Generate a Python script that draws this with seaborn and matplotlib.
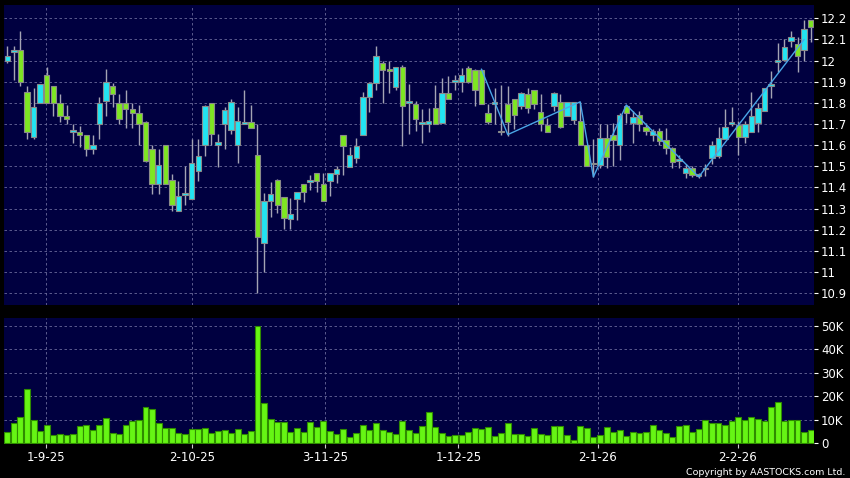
import numpy as np
import pandas as pd
import matplotlib
matplotlib.use('Agg')
import matplotlib.pyplot as plt
import seaborn as sns

# daily candles, 22 Aug 2025 .. 20 Feb 2026
opens = [12.00, 12.04, 12.05, 11.85, 11.64, 11.80, 11.93, 11.88, 11.80, 11.74,
         11.66, 11.66, 11.65, 11.58, 11.70, 11.81, 11.88, 11.80, 11.80, 11.77,
         11.75, 11.71, 11.58, 11.415, 11.60, 11.435, 11.29, 11.365, 11.345, 11.48,
         11.60, 11.80, 11.60, 11.70, 11.67, 11.60, 11.70, 11.71, 11.555, 11.135,
         11.335, 11.435, 11.355, 11.25, 11.345, 11.415, 11.425, 11.47, 11.415, 11.43,
         11.465, 11.65, 11.495, 11.54, 11.65, 11.83, 11.895, 11.99, 11.955, 11.875,
         11.97, 11.80, 11.795, 11.70, 11.70, 11.775, 11.705, 11.845, 11.90, 11.90,
         11.965, 11.955, 11.955, 11.75, 11.795, 11.66, 11.795, 11.82, 11.785, 11.84,
         11.86, 11.755, 11.695, 11.785, 11.805, 11.74, 11.72, 11.715, 11.60, 11.51,
         11.505, 11.635, 11.65, 11.60, 11.785, 11.705, 11.745, 11.685, 11.65, 11.665,
         11.625, 11.585, 11.525, 11.47, 11.49, 11.455, 11.485, 11.54, 11.55, 11.63,
         11.70, 11.695, 11.64, 11.66, 11.705, 11.76, 11.88, 11.995, 12.005, 12.095,
         12.08, 12.05, 12.19]
highs = [12.07, 12.07, 12.14, 11.88, 11.87, 11.89, 11.97, 11.88, 11.84, 11.79,
         11.70, 11.69, 11.65, 11.65, 11.83, 11.96, 11.895, 11.84, 11.86, 11.80,
         11.79, 11.715, 11.60, 11.58, 11.60, 11.465, 11.43, 11.50, 11.63, 11.63,
         11.79, 11.80, 11.655, 11.78, 11.82, 11.78, 11.86, 11.79, 11.70, 11.375,
         11.425, 11.44, 11.355, 11.35, 11.38, 11.415, 11.46, 11.47, 11.47, 11.47,
         11.50, 11.65, 11.59, 11.635, 11.85, 11.90, 12.07, 12.00, 12.00, 11.97,
         11.98, 11.89, 11.81, 11.77, 11.775, 11.885, 11.92, 11.925, 11.93, 11.965,
         11.975, 11.96, 11.96, 11.795, 11.87, 11.885, 11.88, 11.82, 11.85, 11.87,
         11.862, 11.84, 11.73, 11.85, 11.84, 11.805, 11.805, 11.805, 11.60, 11.63,
         11.70, 11.70, 11.705, 11.75, 11.79, 11.76, 11.76, 11.705, 11.675, 11.68,
         11.68, 11.59, 11.555, 11.51, 11.50, 11.47, 11.51, 11.62, 11.685, 11.77,
         11.78, 11.715, 11.715, 11.85, 11.80, 11.87, 11.95, 12.085, 12.10, 12.14,
         12.11, 12.19, 12.19]
lows = [11.99, 11.91, 11.88, 11.63, 11.63, 11.80, 11.80, 11.74, 11.71, 11.70,
        11.61, 11.59, 11.55, 11.56, 11.63, 11.74, 11.78, 11.70, 11.68, 11.68,
        11.60, 11.52, 11.37, 11.37, 11.415, 11.29, 11.29, 11.315, 11.345, 11.43,
        11.55, 11.60, 11.495, 11.58, 11.655, 11.515, 11.70, 11.68, 10.90, 11.00,
        11.26, 11.28, 11.205, 11.205, 11.245, 11.33, 11.39, 11.38, 11.335, 11.36,
        11.42, 11.46, 11.495, 11.515, 11.65, 11.755, 11.86, 11.80, 11.845, 11.86,
        11.595, 11.655, 11.665, 11.61, 11.66, 11.70, 11.705, 11.82, 11.86, 11.85,
        11.895, 11.785, 11.795, 11.70, 11.70, 11.65, 11.645, 11.675, 11.77, 11.75,
        11.77, 11.665, 11.66, 11.76, 11.68, 11.74, 11.70, 11.60, 11.50, 11.45,
        11.49, 11.49, 11.50, 11.53, 11.705, 11.61, 11.665, 11.65, 11.62, 11.60,
        11.56, 11.49, 11.49, 11.445, 11.45, 11.445, 11.455, 11.51, 11.54, 11.63,
        11.69, 11.555, 11.61, 11.66, 11.66, 11.76, 11.825, 11.945, 12.00, 12.065,
        11.945, 12.00, 12.09]
closes = [12.02, 12.04, 11.90, 11.66, 11.78, 11.89, 11.80, 11.80, 11.74, 11.725,
          11.67, 11.65, 11.58, 11.60, 11.80, 11.90, 11.84, 11.725, 11.77, 11.75,
          11.70, 11.525, 11.415, 11.505, 11.415, 11.315, 11.36, 11.375, 11.515, 11.55,
          11.785, 11.655, 11.615, 11.765, 11.805, 11.715, 11.70, 11.68, 11.165, 11.335,
          11.37, 11.315, 11.255, 11.275, 11.38, 11.38, 11.435, 11.43, 11.335, 11.47,
          11.485, 11.595, 11.555, 11.595, 11.83, 11.895, 12.02, 11.955, 11.95, 11.97,
          11.785, 11.80, 11.725, 11.70, 11.715, 11.70, 11.845, 11.82, 11.90, 11.93,
          11.90, 11.86, 11.795, 11.71, 11.795, 11.66, 11.71, 11.745, 11.845, 11.775,
          11.795, 11.70, 11.66, 11.845, 11.685, 11.805, 11.805, 11.60, 11.50, 11.51,
          11.635, 11.545, 11.625, 11.745, 11.75, 11.735, 11.70, 11.665, 11.665, 11.62,
          11.585, 11.52, 11.525, 11.49, 11.46, 11.455, 11.49, 11.60, 11.635, 11.685,
          11.70, 11.64, 11.70, 11.74, 11.775, 11.87, 11.885, 12.00, 12.065, 12.11,
          12.02, 12.15, 12.16]
volumes = [4.9, 8.7, 11.0, 23.1, 9.9, 5.4, 7.6, 3.4, 3.8, 3.4,
           3.9, 7.3, 7.7, 5.6, 7.6, 10.8, 4.2, 3.9, 7.6, 9.3,
           9.9, 15.4, 14.8, 8.7, 6.5, 6.5, 4.6, 3.9, 6.2, 6.3,
           6.6, 4.4, 5.1, 5.6, 4.5, 6.1, 4.1, 5.4, 50.0, 17.0,
           10.3, 8.9, 8.9, 4.8, 6.5, 4.8, 9.0, 6.9, 9.6, 5.4,
           3.8, 6.1, 2.7, 4.4, 7.7, 5.5, 8.5, 5.5, 4.9, 3.9,
           9.3, 5.5, 4.6, 7.3, 13.5, 7.0, 4.5, 3.0, 3.5, 3.5,
           5.0, 6.5, 6.0, 7.0, 3.0, 4.5, 8.5, 4.0, 4.0, 3.0,
           6.5, 4.0, 3.5, 7.5, 7.5, 3.5, 1.5, 7.5, 6.5, 2.5,
           3.5, 7.0, 5.0, 5.5, 3.0, 5.0, 4.5, 5.0, 8.0, 5.5,
           4.5, 2.5, 7.5, 8.0, 5.0, 6.0, 10.0, 8.5, 8.5, 8.0,
           9.5, 11.0, 10.0, 11.0, 10.5, 9.5, 15.5, 17.5, 9.5, 10.0,
           10.0, 5.0, 5.5]  # thousands of shares

# zigzag overlay (candle index, price)
zz_idx = [72, 76, 87, 89, 94, 105, 121]
zz_val = [11.96, 11.65, 11.805, 11.45, 11.79, 11.45, 12.10]

date_labels = ['1-9-25', '2-10-25', '3-11-25', '1-12-25', '2-1-26', '2-2-26']
date_pos = [5.95, 28.1, 48.25, 68.5, 89.7, 110.9]

price_ticks = [10.9, 11.0, 11.1, 11.2, 11.3, 11.4, 11.5, 11.6, 11.7, 11.8, 11.9, 12.0, 12.1, 12.2]
vol_ticks = [0, 10, 20, 30, 40, 50]

df = pd.DataFrame({'open': opens, 'high': highs, 'low': lows, 'close': closes, 'volume': volumes})
df['idx'] = np.arange(len(df))

BG = '#000000'
PANEL = '#000040'
GRID = '#6a6a9a'
UP = '#22e4f2'
DOWN = '#7ee622'

sns.set_style('dark', rc={'axes.facecolor': PANEL, 'figure.facecolor': BG})
plt.rcParams['font.family'] = ['DejaVu Sans']

fig = plt.figure(figsize=(8.5, 4.78), dpi=100)
ax = fig.add_axes([4 / 850, 1 - 305 / 478, 810 / 850, 300 / 478])
axv = fig.add_axes([4 / 850, 1 - 444 / 478, 810 / 850, 126 / 478])

# candles
up = df['close'] >= df['open']
body_lo = np.minimum(df['open'], df['close'])
body_h = np.maximum((df['close'] - df['open']).abs(), 0.008)
ax.vlines(df['idx'], df['low'], df['high'], color='#a4a4b4', lw=1, zorder=2)
ax.bar(df['idx'], body_h, bottom=body_lo, width=0.82,
       color=np.where(up, UP, DOWN), edgecolor='#8a8a8a', linewidth=0.8, zorder=3)
sns.lineplot(x=zz_idx, y=zz_val, ax=ax, sort=False, color='#4aa6e6', lw=1, zorder=4)

# volume
sns.barplot(x=df['idx'], y=df['volume'] * 1000, ax=axv, color='#66f514',
            edgecolor='#2f8c00', linewidth=0.8, width=0.9, saturation=1, zorder=3)

xlim = (-0.49, 122.5)
for a in (ax, axv):
    a.set_xlim(*xlim)
    a.set_facecolor(PANEL)
    for s in a.spines.values():
        s.set_visible(False)
    a.yaxis.tick_right()
    a.set_xlabel('')
    a.set_ylabel('')
    a.set_xticks(date_pos)
    a.grid(True, color=GRID, linestyle=(0, (3, 3)), linewidth=0.6)
    a.tick_params(axis='y', colors='white', labelcolor='white', length=3, width=0.8,
                  direction='out', labelsize=8.5, pad=2, right=True, left=False)

ax.set_ylim(10.844, 12.263)
ax.set_yticks(price_ticks)
ax.set_yticklabels(['%g' % t for t in price_ticks])
ax.tick_params(axis='x', length=0, labelbottom=False)

axv.set_ylim(-300, 53400)
axv.set_yticks([t * 1000 for t in vol_ticks])
axv.set_yticklabels([('%dK' % t) if t else '0' for t in vol_ticks])
axv.set_xticklabels(date_labels)
axv.tick_params(axis='x', colors='#cccccc', labelcolor='white', length=3, width=0.8,
                direction='out', labelsize=8.5, pad=2, bottom=True)

fig.text(0.995, 0.002, 'Copyright by AASTOCKS.com Ltd.', color='white', fontsize=6.8,
         ha='right', va='bottom')

fig.savefig('out.png', dpi=100, facecolor=BG)
